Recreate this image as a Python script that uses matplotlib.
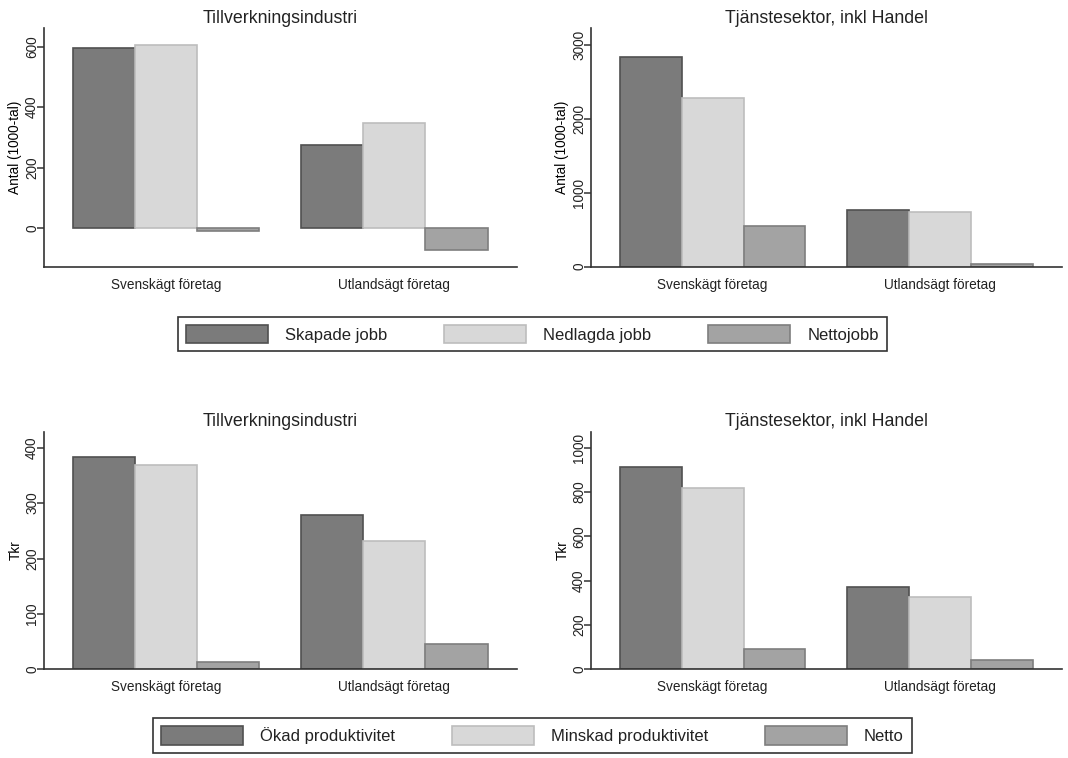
import matplotlib.pyplot as plt
import numpy as np
from matplotlib.patches import Patch

plt.rcParams['font.family'] = ['Liberation Sans', 'DejaVu Sans']
plt.rcParams['text.color'] = '#222222'

groups = ['Svenskägt företag', 'Utlandsägt företag']
titles = ['Tillverkningsindustri', 'Tjänstesektor, inkl Handel']

# Jobb, antal i 1000-tal
jobb_tillv_skapade = [597, 275]
jobb_tillv_nedlagda = [606, 348]
jobb_tillv_netto = [-9, -73]
jobb_tjanst_skapade = [2833, 771]
jobb_tjanst_nedlagda = [2283, 736]
jobb_tjanst_netto = [545, 35]

# Produktivitet, Tkr
prod_tillv_okad = [383, 278]
prod_tillv_minskad = [369, 232]
prod_tillv_netto = [13, 45]
prod_tjanst_okad = [913, 373]
prod_tjanst_minskad = [818, 326]
prod_tjanst_netto = [92, 44]

jobb_labels = ['Skapade jobb', 'Nedlagda jobb', 'Nettojobb']
prod_labels = ['Ökad produktivitet', 'Minskad produktivitet', 'Netto']

fills = ['#7b7b7b', '#d8d8d8', '#a3a3a3']
edges = ['#505050', '#bdbdbd', '#7e7e7e']

fig = plt.figure(figsize=(10.68, 7.58), dpi=100)

W, H = 1068, 758


def make_ax(x0, x1, y0, y1):
    return fig.add_axes([x0 / W, 1 - y1 / H, (x1 - x0) / W, (y1 - y0) / H])


def draw_panel(ax, series, title, ylabel, ylim, yticks):
    x = np.arange(len(groups))
    w = 0.272
    for i, vals in enumerate(series):
        ax.bar(x + (i - 1) * w, vals, width=w, color=fills[i],
               edgecolor=edges[i], linewidth=1.2)
    ax.set_xlim(-0.535, 1.537)
    ax.set_ylim(*ylim)
    ax.set_yticks(yticks)
    ax.set_xticks(x)
    ax.set_xticklabels(groups, fontsize=9.8)
    ax.tick_params(axis='x', length=0, pad=8, colors='#222222')
    ax.tick_params(axis='y', length=5, width=1.1, pad=-1.5, labelsize=9.8,
                   colors='#333333', labelcolor='#222222')
    for lab in ax.get_yticklabels():
        lab.set_rotation(90)
        lab.set_va('center')
    ax.set_ylabel(ylabel, fontsize=9.8, labelpad=2)
    ax.set_title(title, fontsize=12.8, pad=4)
    for side in ['top', 'right']:
        ax.spines[side].set_visible(False)
    for side in ['left', 'bottom']:
        ax.spines[side].set_color('#333333')
        ax.spines[side].set_linewidth(1.2)


ax1 = make_ax(44, 517, 28.3, 266.7)
ax2 = make_ax(591, 1062, 28.3, 266.7)
ax3 = make_ax(44, 517, 431.7, 669.3)
ax4 = make_ax(591, 1062, 431.7, 669.3)

draw_panel(ax1, [jobb_tillv_skapade, jobb_tillv_nedlagda, jobb_tillv_netto],
           titles[0], 'Antal (1000-tal)', (-128, 661), [0, 200, 400, 600])
draw_panel(ax2, [jobb_tjanst_skapade, jobb_tjanst_nedlagda, jobb_tjanst_netto],
           titles[1], 'Antal (1000-tal)', (0, 3226), [0, 1000, 2000, 3000])
draw_panel(ax3, [prod_tillv_okad, prod_tillv_minskad, prod_tillv_netto],
           titles[0], 'Tkr', (0, 429), [0, 100, 200, 300, 400])
draw_panel(ax4, [prod_tjanst_okad, prod_tjanst_minskad, prod_tjanst_netto],
           titles[1], 'Tkr', (0, 1072), [0, 200, 400, 600, 800, 1000])


def add_legend(labels, center):
    handles = [Patch(facecolor=fills[i], edgecolor=edges[i], linewidth=1.2,
                     label=labels[i]) for i in range(3)]
    leg = fig.legend(handles=handles, loc='center', bbox_to_anchor=center,
                     ncol=3, fontsize=12, handlelength=4.9, handleheight=1.3,
                     handletextpad=1.05, columnspacing=3.4, borderpad=0.5,
                     fancybox=False, framealpha=1, edgecolor='#333333')
    leg.get_frame().set_linewidth(1.2)
    return leg


add_legend(jobb_labels, ((177 + 888) / 2 / W, 1 - (314 + 354) / 2 / H))
add_legend(prod_labels, ((153 + 912) / 2 / W, 1 - (716 + 755) / 2 / H))

fig.savefig('out.png', dpi=100, facecolor='white')
